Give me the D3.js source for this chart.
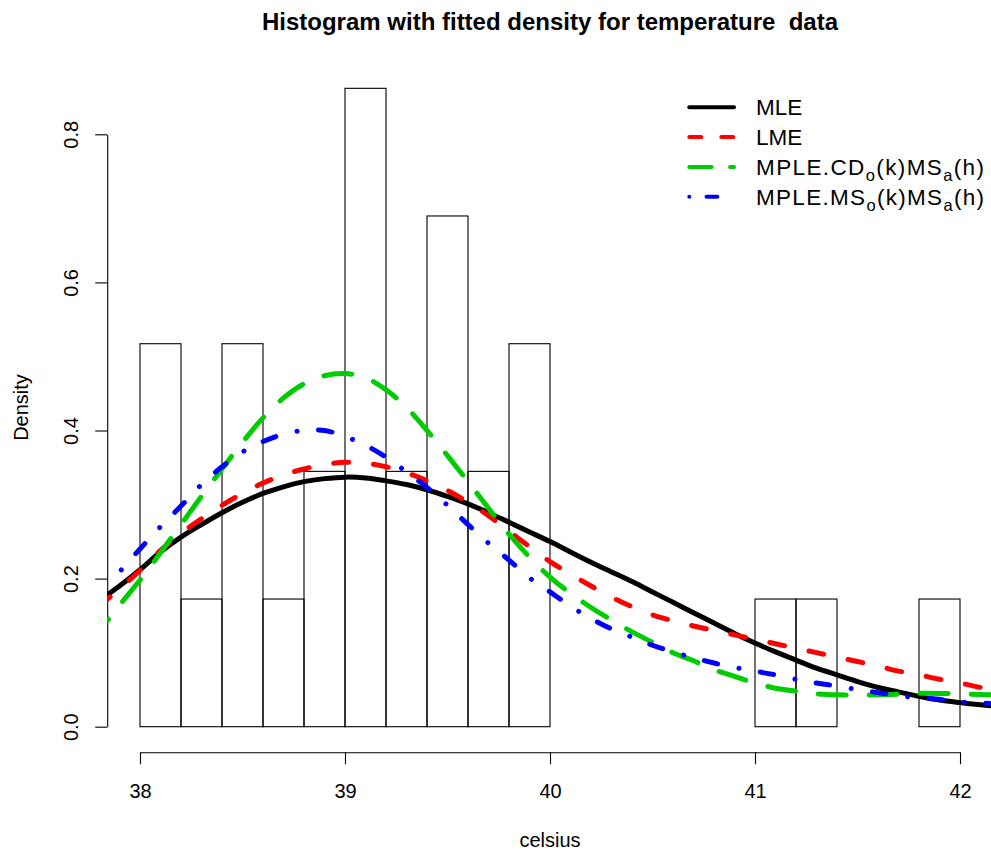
<!DOCTYPE html>
<html><head><meta charset="utf-8">
<script src="https://cdn.jsdelivr.net/npm/d3@7"></script>
<style>
body{margin:0;background:#fff;}
svg{display:block;font-family:"Liberation Sans",Arial,Helvetica,sans-serif;}
</style></head>
<body><svg id="chart" width="991" height="854"></svg>
<script>
// ---- data ----
const binEdges = [38.0,38.2,38.4,38.6,38.8,39.0,39.2,39.4,39.6,39.8,40.0,40.2,40.4,40.6,40.8,41.0,41.2,41.4,41.6,41.8,42.0];
const binDensity = [0.5172,0.1724,0.5172,0.1724,0.3448,0.8621,0.3448,0.6897,0.3448,0.5172,0,0,0,0,0,0.1724,0.1724,0,0,0.1724];

const xTicks = [38,39,40,41,42];
const yTicks = [0.0,0.2,0.4,0.6,0.8];
const yTickLabels = ["0.0","0.2","0.4","0.6","0.8"];

const xs = [37.84,37.9,38.0,38.1,38.2,38.3,38.4,38.5,38.6,38.7,38.8,38.9,39.0,39.1,39.2,39.3,39.4,39.5,39.6,39.7,39.8,39.9,40.0,40.1,40.2,40.3,40.4,40.5,40.6,40.7,40.8,40.9,41.0,41.1,41.2,41.3,41.4,41.5,41.6,41.7,41.8,41.9,42.0,42.1,42.16];
const mle = [0.178,0.190,0.212,0.236,0.256,0.273,0.289,0.303,0.315,0.324,0.331,0.335,0.337,0.336,0.332,0.327,0.320,0.311,0.301,0.289,0.276,0.263,0.250,0.236,0.222,0.209,0.196,0.182,0.168,0.154,0.140,0.126,0.113,0.101,0.090,0.079,0.070,0.061,0.053,0.047,0.041,0.036,0.0325,0.0295,0.028];
const lme = [0.172,0.186,0.211,0.238,0.261,0.281,0.299,0.315,0.329,0.340,0.348,0.354,0.357,0.356,0.351,0.343,0.332,0.319,0.303,0.285,0.264,0.243,0.223,0.206,0.190,0.175,0.162,0.151,0.143,0.136,0.130,0.124,0.118,0.112,0.106,0.100,0.094,0.088,0.082,0.075,0.070,0.064,0.059,0.053,0.050];
const mpleCD = [0.143,0.164,0.198,0.235,0.273,0.311,0.348,0.384,0.417,0.444,0.463,0.474,0.477,0.471,0.455,0.431,0.400,0.366,0.331,0.295,0.260,0.229,0.202,0.180,0.161,0.144,0.128,0.114,0.100,0.089,0.077,0.068,0.059,0.052,0.048,0.0445,0.043,0.0428,0.043,0.044,0.045,0.045,0.0445,0.0435,0.043];
const mpleMS = [0.191,0.209,0.240,0.270,0.298,0.327,0.351,0.371,0.385,0.395,0.400,0.400,0.392,0.380,0.364,0.344,0.323,0.299,0.273,0.248,0.225,0.201,0.182,0.163,0.146,0.132,0.121,0.110,0.101,0.093,0.086,0.080,0.075,0.070,0.064,0.059,0.055,0.050,0.046,0.042,0.039,0.037,0.0335,0.032,0.031];

const seriesNames = ["MLE","LME","MPLE.CD","MPLE.MS"];
const seriesColors = ["#000000","#FF0000","#00CD00","#0000FF"];

// ---- layout ----
const svg = d3.select("#chart");
svg.append("rect").attr("width",991).attr("height",854).attr("fill","#fff");

const x = d3.scaleLinear().domain([38,42]).range([140,960]);
const y = d3.scaleLinear().domain([0,0.8]).range([726.7,134.3]);
const plotL = x(37.84), plotR = x(42.16), plotT = y(0.8966), plotB = y(-0.0345);

// title
svg.append("text").attr("x",(plotL+plotR)/2).attr("y",30)
  .attr("text-anchor","middle").attr("font-size",24).attr("font-weight","bold")
  .style("white-space","pre")
  .text("Histogram with fitted density for temperature  data");

// histogram
const bins = binDensity.map((d,i)=>({x0:binEdges[i],x1:binEdges[i+1],d}));
svg.append("g").selectAll("rect").data(bins).join("rect")
  .attr("x",b=>x(b.x0)).attr("width",b=>x(b.x1)-x(b.x0))
  .attr("y",b=>y(b.d)).attr("height",b=>y(0)-y(b.d))
  .attr("fill","none").attr("stroke","#000").attr("stroke-width",1.1);

// x axis
const xAxis = d3.axisBottom(x).tickValues(xTicks).tickFormat(d3.format("d")).tickSize(12).tickSizeOuter(0);
const gx = svg.append("g").attr("transform",`translate(0,${plotB})`).call(xAxis);
gx.select(".domain").attr("stroke","#000").attr("stroke-width",1.1);
gx.selectAll(".tick line").attr("stroke","#000").attr("stroke-width",1.1);
gx.selectAll(".tick text").attr("y",45.5).attr("dy",null).attr("font-size",20)
  .attr("font-family","Liberation Sans, Arial, sans-serif").attr("fill","#000");

// y axis
const yAxis = d3.axisLeft(y).tickValues(yTicks).tickFormat((d,i)=>yTickLabels[i]).tickSize(12).tickSizeOuter(0);
const gy = svg.append("g").attr("transform",`translate(${plotL},0)`).call(yAxis);
gy.select(".domain").attr("stroke","#000").attr("stroke-width",1.1);
gy.selectAll(".tick line").attr("stroke","#000").attr("stroke-width",1.1);
gy.selectAll(".tick text").attr("x",null).attr("dy",null)
  .attr("transform","translate(-29,0) rotate(-90)")
  .attr("text-anchor","middle").attr("font-size",20)
  .attr("font-family","Liberation Sans, Arial, sans-serif").attr("fill","#000");

// axis titles
svg.append("text").attr("x",(plotL+plotR)/2).attr("y",847).attr("text-anchor","middle")
  .attr("font-size",20).text("celsius");
svg.append("text").attr("transform",`translate(28,${(plotT+plotB)/2}) rotate(-90)`)
  .attr("text-anchor","middle").attr("font-size",20).text("Density");

// curves
svg.append("clipPath").attr("id","clip").append("rect")
  .attr("x",plotL).attr("y",plotT).attr("width",plotR-plotL).attr("height",plotB-plotT);
const line = d3.line().x(d=>x(d[0])).y(d=>y(d[1])).curve(d3.curveCatmullRom.alpha(0.5));
const curveSeries = [
  {vals:mle, color:seriesColors[0], dash:null, off:0},
  {vals:lme, color:seriesColors[1], dash:"15,25", off:11},
  {vals:mpleCD, color:seriesColors[2], dash:"28,23", off:26},
  {vals:mpleMS, color:seriesColors[3], dash:"0.01,21.5,13.6,21.9", off:36}
];
const gc = svg.append("g").attr("clip-path","url(#clip)");
curveSeries.forEach(s=>{
  gc.append("path").datum(xs.map((v,i)=>[v,s.vals[i]]))
    .attr("d",line).attr("fill","none").attr("stroke",s.color)
    .attr("stroke-width",5).attr("stroke-linecap","round").attr("stroke-linejoin","round")
    .attr("stroke-dasharray",s.dash).attr("stroke-dashoffset",s.off);
});

// legend
const legendDash = [null,"12,20","22.4,18.4","0.01,17.2,10.9,17.5"];
const legendLabels = [
  [{t:"MLE"}],
  [{t:"LME"}],
  [{t:"MPLE.CD"},{t:"o",sub:true},{t:"(k)MS"},{t:"a",sub:true},{t:"(h)"}],
  [{t:"MPLE.MS"},{t:"o",sub:true},{t:"(k)MS"},{t:"a",sub:true},{t:"(h)"}]
];
const lg = svg.append("g");
seriesNames.forEach((n,i)=>{
  const ly = 107.3 + i*29.8;
  lg.append("line").attr("x1",689.3).attr("x2",734).attr("y1",ly).attr("y2",ly)
    .attr("stroke",seriesColors[i]).attr("stroke-width",4).attr("stroke-linecap","round")
    .attr("stroke-dasharray",legendDash[i]);
  const t = lg.append("text").attr("x",756).attr("y",ly+8).attr("font-size",22.5);
  let shifted = false;
  legendLabels[i].forEach(p=>{
    const ts = t.append("tspan").text(p.t);
    if(p.sub){ ts.attr("font-size",16.5).attr("dy",6); shifted = true; }
    else if(shifted){ ts.attr("dy",-6); shifted = false; }
  });
  if(legendLabels[i].length>1) t.attr("textLength",228).attr("lengthAdjust","spacing");
});
</script>
</body></html>
